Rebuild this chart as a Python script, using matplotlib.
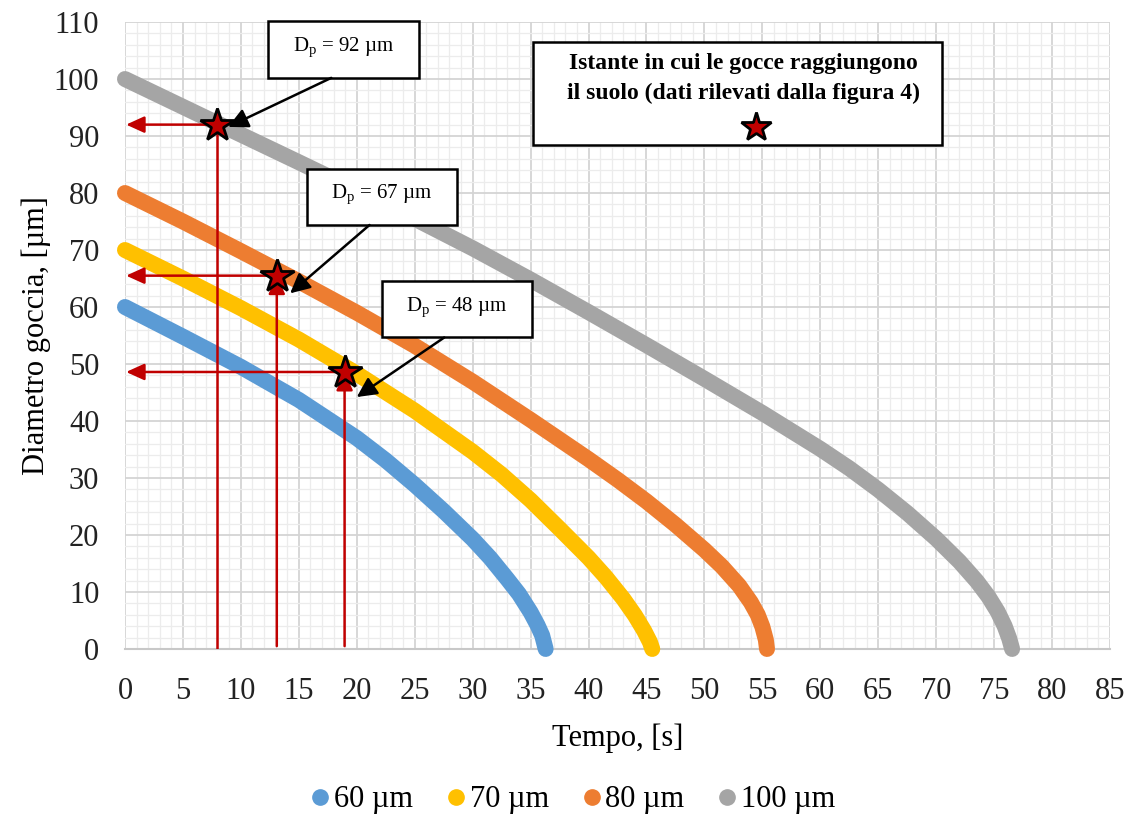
import matplotlib
matplotlib.use("Agg")
import matplotlib.pyplot as plt
from matplotlib.lines import Line2D
from matplotlib.patches import Rectangle

plt.rcParams['font.family'] = ['Liberation Serif', 'DejaVu Serif']
plt.rcParams['mathtext.fontset'] = 'custom'
plt.rcParams['mathtext.rm'] = 'Liberation Serif'

# curve values (tempo [s], diametro [um])
t_60 = [0, 5, 10, 15, 20, 22.5, 25, 27.5, 30, 31.5, 33, 34, 35, 35.6, 36.0, 36.3]
d_60 = [60, 54.8, 49.5, 43.7, 37.0, 33.1, 28.8, 24.2, 19.3, 16.0, 12.25,
        9.65, 6.45, 4.17, 2.37, 0]

t_70 = [0, 5, 10, 15, 20, 25, 30, 32.5, 35, 37.5, 40, 41.5, 43, 44, 44.8,
        45.3, 45.5]
d_70 = [70, 65, 59.8, 54.3, 48.3, 41.8, 34.6, 30.6, 26.1, 21.1, 16.0, 12.6,
        8.8, 5.9, 3.2, 1.2, 0]

t_80 = [0, 5, 10, 15, 20, 25, 30, 35, 40, 42.5, 45, 47.5, 50, 51.5, 53, 54,
        54.6, 55.0, 55.3, 55.4]
d_80 = [80, 75, 69.8, 64.5, 59.0, 53.2, 46.9, 40.2, 33.3, 29.7, 25.9, 21.8,
        17.4, 14.5, 11.1, 8.2, 6.0, 3.9, 1.6, 0]

t_100 = [0, 8, 15, 20, 25, 30, 35, 40, 45, 50, 55, 60, 62.5, 65, 67.5, 70,
         72, 73.5, 74.5, 75.3, 75.9, 76.3, 76.55]
d_100 = [100, 92.2, 85.4, 80.5, 75.5, 70.3, 64.8, 59.1, 53.3, 47.4, 41.4,
         35.1, 31.7, 27.95, 23.85, 19.35, 15.35, 11.9, 9.2, 6.56, 4.04, 1.84, 0]

serie_labels = ['60 µm', '70 µm', '80 µm', '100 µm']
serie_colori = ['#5B9BD5', '#FFC000', '#ED7D31', '#A5A5A5']

# stelle: istante in cui le gocce toccano il suolo
stelle_t = [7.9, 13.1, 18.95]
stelle_d = [92.0, 65.5, 48.6]
stelle_txt = ['92', '67', '48']

fig = plt.figure(figsize=(11.32, 8.22), dpi=100)
ax = fig.add_axes([0.1104, 0.2105, 0.8702, 0.7627])

serie = [(t_60, d_60), (t_70, d_70), (t_80, d_80), (t_100, d_100)]
for (tt, dd), col in zip(serie, serie_colori):
    ax.plot(tt, dd, color=col, lw=11.5, solid_capstyle='round',
            solid_joinstyle='round', clip_on=False, zorder=3)

ax.set_xlim(0, 85)
ax.set_ylim(0, 110)
ax.set_xticks(range(0, 86, 5))
ax.set_yticks(range(0, 111, 10))
ax.set_xticks(range(0, 86, 1), minor=True)
ax.set_yticks(range(0, 111, 2), minor=True)
ax.grid(which='major', color='#d4d4d4', lw=1.3, zorder=0)
ax.grid(which='minor', color='#ececec', lw=0.9, zorder=0)
ax.set_axisbelow(True)
for s in ['top', 'right', 'left']:
    ax.spines[s].set_visible(False)
ax.spines['bottom'].set_color('#c8c8c8')
ax.spines['bottom'].set_linewidth(1.5)
ax.tick_params(which='both', length=0, labelsize=22, colors='#222222')
ax.tick_params(axis='y', pad=18.5)
ax.tick_params(axis='x', pad=20)

ax.set_xlabel('Tempo, [s]', fontsize=22, labelpad=13)
ax.set_ylabel('Diametro goccia, [µm]', fontsize=22, labelpad=2)

rosso = '#C00000'
frecc = dict(arrowstyle='-|>,head_length=0.55,head_width=0.25', color=rosso,
             lw=1.8, mutation_scale=20, shrinkA=0, shrinkB=0)
for i, (ts, ds) in enumerate(zip(stelle_t, stelle_d)):
    # freccia orizzontale verso l'asse y
    ax.annotate('', xy=(0.1, ds), xytext=(ts, ds), arrowprops=frecc,
                zorder=4, annotation_clip=False)
    # linea verticale dal suolo alla stella
    if i == 0:
        ax.plot([ts, ts], [0, ds], color=rosso, lw=1.8, zorder=4)
    else:
        ax.annotate('', xy=(ts, ds), xytext=(ts, 0.5), arrowprops=frecc,
                    zorder=4, annotation_clip=False)

ax.plot(stelle_t, stelle_d, ls='none', marker='*', ms=25, mfc=rosso,
        mec='black', mew=2, zorder=6, clip_on=False)

# caselle D_p
box_pos = [(12.37, 100.2), (15.69, 74.39), (22.16, 54.65)]
box_w, box_h = 13.0, 9.9
frecce_start = [(17.8, 100.2), (21.1, 74.39), (27.55, 54.65)]
frecce_tip = [(8.9, 91.6), (14.25, 62.4), (20.0, 44.2)]
nera = dict(arrowstyle='-|>,head_length=0.6,head_width=0.3', color='black',
            lw=1.8, mutation_scale=20, shrinkA=0, shrinkB=0)
for (bx, by), txt, st, tip in zip(box_pos, stelle_txt, frecce_start, frecce_tip):
    ax.add_patch(Rectangle((bx, by), box_w, box_h, facecolor='white',
                           edgecolor='black', lw=1.8, zorder=7, clip_on=False))
    ax.text(bx + box_w / 2, by + box_h / 2 + 0.3,
            r'D$_{\mathregular{p}}$ = ' + txt + ' µm', fontsize=15,
            ha='center', va='center', zorder=8)
    ax.annotate('', xy=tip, xytext=st, arrowprops=nera, zorder=7,
                annotation_clip=False)

# casella descrittiva
ax.add_patch(Rectangle((35.2, 88.4), 35.34, 18.1, facecolor='white',
                       edgecolor='black', lw=1.8, zorder=7, clip_on=False))
ax.text(53.4, 102.75, 'Istante in cui le gocce raggiungono', fontsize=17,
        fontweight='bold', ha='center', va='center', zorder=8)
ax.text(53.4, 97.5, 'il suolo (dati rilevati dalla figura 4)', fontsize=17,
        fontweight='bold', ha='center', va='center', zorder=8)
ax.plot([54.46], [91.6], marker='*', ms=22, mfc=rosso, mec='black', mew=2,
        zorder=8, clip_on=False)

handles = [Line2D([], [], ls='none', marker='o', ms=11, color=c)
           for c in serie_colori]
fig.legend(handles, serie_labels, loc='center', bbox_to_anchor=(0.505, 0.027),
           ncol=4, frameon=False, fontsize=22, handletextpad=0.05,
           columnspacing=1.0, handlelength=0.8)

fig.savefig('out.png', dpi=100)
